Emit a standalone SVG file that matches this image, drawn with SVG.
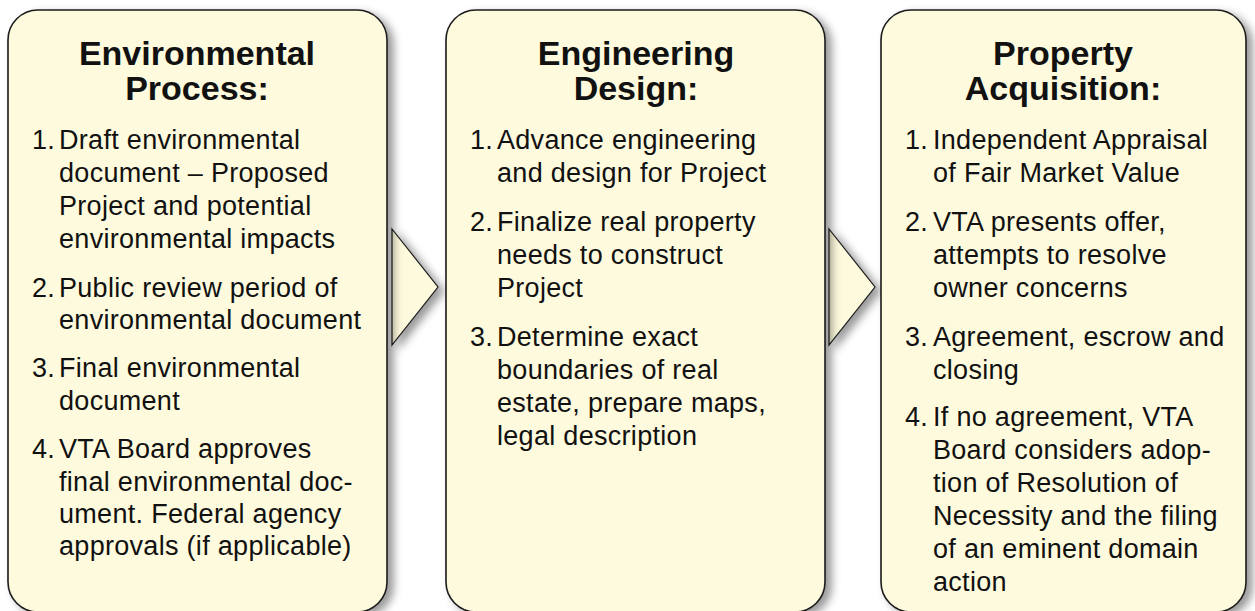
<svg xmlns="http://www.w3.org/2000/svg" width="1255" height="611" viewBox="0 0 1255 611">
<defs>
<filter id="sh" x="-10%" y="-10%" width="130%" height="130%">
<feDropShadow dx="6" dy="4" stdDeviation="4.5" flood-color="#000" flood-opacity="0.4"/>
</filter>
<style>
.box{fill:#FEFADD;stroke:#1a1a1a;stroke-width:1.6}
.arr{fill:#FEFADD;stroke:#1a1a1a;stroke-width:1.2}
.t{font-family:"Liberation Sans",Arial,sans-serif;font-weight:bold;font-size:34px;fill:#111;text-anchor:middle}
.b{font-family:"Liberation Sans",Arial,sans-serif;font-size:27px;letter-spacing:0.3px;fill:#111}
</style>
</defs>
<g id="connectors">
<polygon class="arr" filter="url(#sh)" points="392,229 438,287 392,345"/>
<polygon class="arr" filter="url(#sh)" points="829,229 875,287 829,345"/>
</g>
<g id="node-environmental">
<rect class="box" filter="url(#sh)" x="8" y="10" width="379" height="602" rx="30"/>
<text class="t" x="197" y="65">Environmental</text>
<text class="t" x="197" y="100">Process:</text>
<text class="b" x="32" y="149">1.</text>
<text class="b" x="59" y="149">Draft environmental</text>
<text class="b" x="59" y="182">document – Proposed</text>
<text class="b" x="59" y="215">Project and potential</text>
<text class="b" x="59" y="248">environmental impacts</text>
<text class="b" x="32" y="297">2.</text>
<text class="b" x="59" y="297">Public review period of</text>
<text class="b" x="59" y="329">environmental document</text>
<text class="b" x="32" y="377">3.</text>
<text class="b" x="59" y="377">Final environmental</text>
<text class="b" x="59" y="410">document</text>
<text class="b" x="32" y="458">4.</text>
<text class="b" x="59" y="458">VTA Board approves</text>
<text class="b" x="59" y="491">final environmental doc-</text>
<text class="b" x="59" y="523">ument. Federal agency</text>
<text class="b" x="59" y="555">approvals (if applicable)</text>
</g>
<g id="node-engineering">
<rect class="box" filter="url(#sh)" x="446" y="10" width="379" height="602" rx="30"/>
<text class="t" x="636" y="65">Engineering</text>
<text class="t" x="636" y="100">Design:</text>
<text class="b" x="470" y="149">1.</text>
<text class="b" x="497" y="149">Advance engineering</text>
<text class="b" x="497" y="182">and design for Project</text>
<text class="b" x="470" y="231">2.</text>
<text class="b" x="497" y="231">Finalize real property</text>
<text class="b" x="497" y="264">needs to construct</text>
<text class="b" x="497" y="297">Project</text>
<text class="b" x="470" y="346">3.</text>
<text class="b" x="497" y="346">Determine exact</text>
<text class="b" x="497" y="379">boundaries of real</text>
<text class="b" x="497" y="412">estate, prepare maps,</text>
<text class="b" x="497" y="445">legal description</text>
</g>
<g id="node-property">
<rect class="box" filter="url(#sh)" x="881" y="10" width="365" height="602" rx="30"/>
<text class="t" x="1063" y="65">Property</text>
<text class="t" x="1063" y="100">Acquisition:</text>
<text class="b" x="905" y="149">1.</text>
<text class="b" x="933" y="149">Independent Appraisal</text>
<text class="b" x="933" y="182">of Fair Market Value</text>
<text class="b" x="905" y="231">2.</text>
<text class="b" x="933" y="231">VTA presents offer,</text>
<text class="b" x="933" y="264">attempts to resolve</text>
<text class="b" x="933" y="297">owner concerns</text>
<text class="b" x="905" y="346">3.</text>
<text class="b" x="933" y="346">Agreement, escrow and</text>
<text class="b" x="933" y="379">closing</text>
<text class="b" x="905" y="426">4.</text>
<text class="b" x="933" y="426">If no agreement, VTA</text>
<text class="b" x="933" y="459">Board considers adop-</text>
<text class="b" x="933" y="492">tion of Resolution of</text>
<text class="b" x="933" y="525">Necessity and the filing</text>
<text class="b" x="933" y="558">of an eminent domain</text>
<text class="b" x="933" y="591">action</text>
</g>
</svg>
